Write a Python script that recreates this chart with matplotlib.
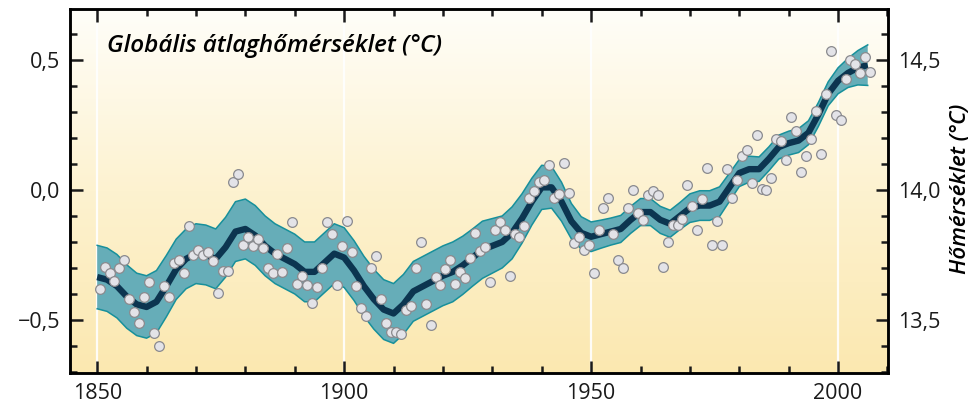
import numpy as np
import matplotlib
matplotlib.use("Agg")
import matplotlib.pyplot as plt
from matplotlib.colors import LinearSegmentedColormap
from matplotlib.ticker import MultipleLocator, FuncFormatter

# ---- data: annual global mean temperature anomalies (°C) ----
years = list(range(1850, 2007))
anomaly = [
    -0.38, -0.295, -0.32, -0.35, -0.30, -0.27, -0.42, -0.47, -0.51, -0.41,     # 1850-59
    -0.355, -0.55, -0.60, -0.37, -0.41, -0.28, -0.27, -0.32, -0.14, -0.25,     # 1860-69
    -0.23, -0.25, -0.24, -0.275, -0.395, -0.31, -0.31, 0.03, 0.06, -0.21,      # 1870-79
    -0.18, -0.215, -0.19, -0.225, -0.30, -0.32, -0.245, -0.315, -0.225, -0.125,  # 1880-89
    -0.36, -0.33, -0.365, -0.435, -0.375, -0.30, -0.125, -0.17, -0.365, -0.215,  # 1890-99
    -0.12, -0.24, -0.37, -0.455, -0.485, -0.30, -0.255, -0.42, -0.51, -0.545,    # 1900-09
    -0.545, -0.555, -0.46, -0.445, -0.30, -0.20, -0.44, -0.52, -0.335, -0.365,   # 1910-19
    -0.305, -0.27, -0.36, -0.315, -0.34, -0.26, -0.165, -0.235, -0.22, -0.355,   # 1920-29
    -0.155, -0.125, -0.155, -0.33, -0.17, -0.18, -0.14, -0.03, -0.005, 0.03,     # 1930-39
    0.04, 0.095, -0.03, -0.015, 0.105, -0.01, -0.205, -0.18, -0.23, -0.21,       # 1940-49
    -0.32, -0.155, -0.07, -0.03, -0.17, -0.27, -0.30, -0.07, 0.0, -0.09,         # 1950-59
    -0.115, -0.02, -0.005, -0.02, -0.295, -0.20, -0.135, -0.135, -0.11, 0.02,    # 1960-69
    -0.06, -0.155, -0.035, 0.085, -0.21, -0.12, -0.21, 0.08, -0.03, 0.04,        # 1970-79
    0.13, 0.155, 0.025, 0.21, 0.005, 0.0, 0.045, 0.195, 0.19, 0.115,             # 1980-89
    0.28, 0.225, 0.07, 0.13, 0.195, 0.305, 0.14, 0.37, 0.535, 0.29,              # 1990-99
    0.27, 0.425, 0.50, 0.485, 0.45, 0.51, 0.455,                                  # 2000-06
]

# smoothed curve and its uncertainty half-width, read every two years
smooth_years = list(range(1850, 2007, 2))
smooth_vals = [
    -0.335, -0.345, -0.37, -0.41, -0.44, -0.45, -0.43, -0.37, -0.305, -0.265,
    -0.245, -0.25, -0.265, -0.22, -0.16, -0.15, -0.175, -0.215, -0.245, -0.265,
    -0.285, -0.315, -0.315, -0.28, -0.245, -0.26, -0.31, -0.37, -0.42, -0.46,
    -0.475, -0.44, -0.39, -0.37, -0.35, -0.33, -0.315, -0.29, -0.26, -0.23,
    -0.215, -0.20, -0.165, -0.11, -0.045, 0.01, 0.01, -0.045, -0.12, -0.165,
    -0.18, -0.17, -0.16, -0.15, -0.115, -0.085, -0.085, -0.115, -0.13, -0.10,
    -0.07, -0.06, -0.06, -0.045, 0.01, 0.065, 0.08, 0.08, 0.12, 0.165,
    0.18, 0.19, 0.22, 0.29, 0.37, 0.42, 0.45, 0.47, 0.48,
]
band_halfwidth = [
    0.122, 0.122, 0.122, 0.122, 0.12, 0.12, 0.12, 0.118, 0.116, 0.115,
    0.115, 0.115, 0.115, 0.115, 0.115, 0.115, 0.115, 0.115, 0.115, 0.115,
    0.115, 0.115, 0.115, 0.115, 0.115, 0.115, 0.115, 0.115, 0.115, 0.115,
    0.115, 0.115, 0.115, 0.115, 0.115, 0.115, 0.115, 0.112, 0.11, 0.11,
    0.105, 0.10, 0.10, 0.095, 0.09, 0.085, 0.08, 0.075, 0.068, 0.062,
    0.057, 0.054, 0.052, 0.052, 0.052, 0.052, 0.052, 0.052, 0.052, 0.052,
    0.055, 0.057, 0.057, 0.057, 0.054, 0.052, 0.05, 0.047, 0.046, 0.046,
    0.046, 0.046, 0.046, 0.046, 0.046, 0.05, 0.056, 0.066, 0.078,
]

left_ticks = [-0.5, 0.0, 0.5]
right_offset = 14.0
year_ticks = [1850, 1900, 1950, 2000]

title_text = "Globális átlaghőmérséklet (°C)"
right_label = "Hőmérséklet (°C)"

# ---- figure ----
FONT = ["Open Sans", "DejaVu Sans"]
plt.rcParams["font.family"] = FONT

fig = plt.figure(figsize=(9.71, 4.05), dpi=100)
ax = fig.add_axes([0.0721, 0.079, 0.8424, 0.8988])
xlim = (1844.5, 2010.1)
ylim = (-0.704, 0.696)
ax.set_xlim(*xlim)
ax.set_ylim(*ylim)

# background gradient (white at top -> pale yellow at bottom)
cmap = LinearSegmentedColormap.from_list("bg", ["#fbe8b0", "#fdf2d0", "#fffef9"])
grad = np.linspace(0, 1, 256).reshape(-1, 1)
ax.imshow(grad, cmap=cmap, origin="lower", aspect="auto",
          extent=[xlim[0], xlim[1], ylim[0], ylim[1]], zorder=0)

for yr in year_ticks:
    ax.axvline(yr, color="white", lw=1.6, alpha=0.9, zorder=1)

sy = np.array(smooth_years, dtype=float)
sv = np.array(smooth_vals)
hw = np.array(band_halfwidth)
ax.fill_between(sy, sv - hw, sv + hw, facecolor="#66adb8", edgecolor="none", zorder=2)
ax.plot(sy, sv + hw, color="#17909b", lw=1.1, zorder=3)
ax.plot(sy, sv - hw, color="#17909b", lw=1.1, zorder=3)
ax.plot(sy, sv, color="#0c3550", lw=4.6, solid_capstyle="butt",
        solid_joinstyle="round", zorder=4)

ax.plot(np.array(years) + 0.5, anomaly, linestyle="none", marker="o",
        markersize=7.0, markerfacecolor="#e3e3e8", markeredgecolor="#8a8a8e",
        markeredgewidth=0.9, zorder=5)

# spines and ticks
for sp in ax.spines.values():
    sp.set_linewidth(1.8)
ax.set_xticks(year_ticks)
ax.xaxis.set_minor_locator(MultipleLocator(10))
ax.set_yticks(left_ticks)
ax.yaxis.set_minor_locator(MultipleLocator(0.1))
ax.tick_params(which="both", direction="in", width=1.8, top=True, right=False,
               labelsize=15.5, colors="#1a1a1a", pad=7)
ax.tick_params(which="major", length=9)
ax.tick_params(which="minor", length=5)

def comma(v, pos):
    s = f"{v:.1f}".replace(".", ",")
    return s.replace("-", "\u2212")

ax.yaxis.set_major_formatter(FuncFormatter(comma))

ax2 = ax.twinx()
ax2.set_ylim(ylim[0] + right_offset, ylim[1] + right_offset)
ax2.set_yticks([t + right_offset for t in left_ticks])
ax2.yaxis.set_minor_locator(MultipleLocator(0.1))
ax2.yaxis.set_major_formatter(FuncFormatter(comma))
ax2.tick_params(which="both", direction="in", width=1.8, labelsize=15.5,
                colors="#1a1a1a", pad=7)
ax2.tick_params(which="major", length=9)
ax2.tick_params(which="minor", length=5)
for sp in ax2.spines.values():
    sp.set_linewidth(1.8)
ax2.set_ylabel(right_label, fontsize=16, style="italic", fontweight="semibold",
               labelpad=6)
ax2.yaxis.set_label_coords(1.076, 0.505)

ax.text(0.045, 0.93, title_text, transform=ax.transAxes, fontsize=17.5,
        style="italic", fontweight="semibold", va="top", ha="left", zorder=6)

fig.savefig("out.png", dpi=100)
